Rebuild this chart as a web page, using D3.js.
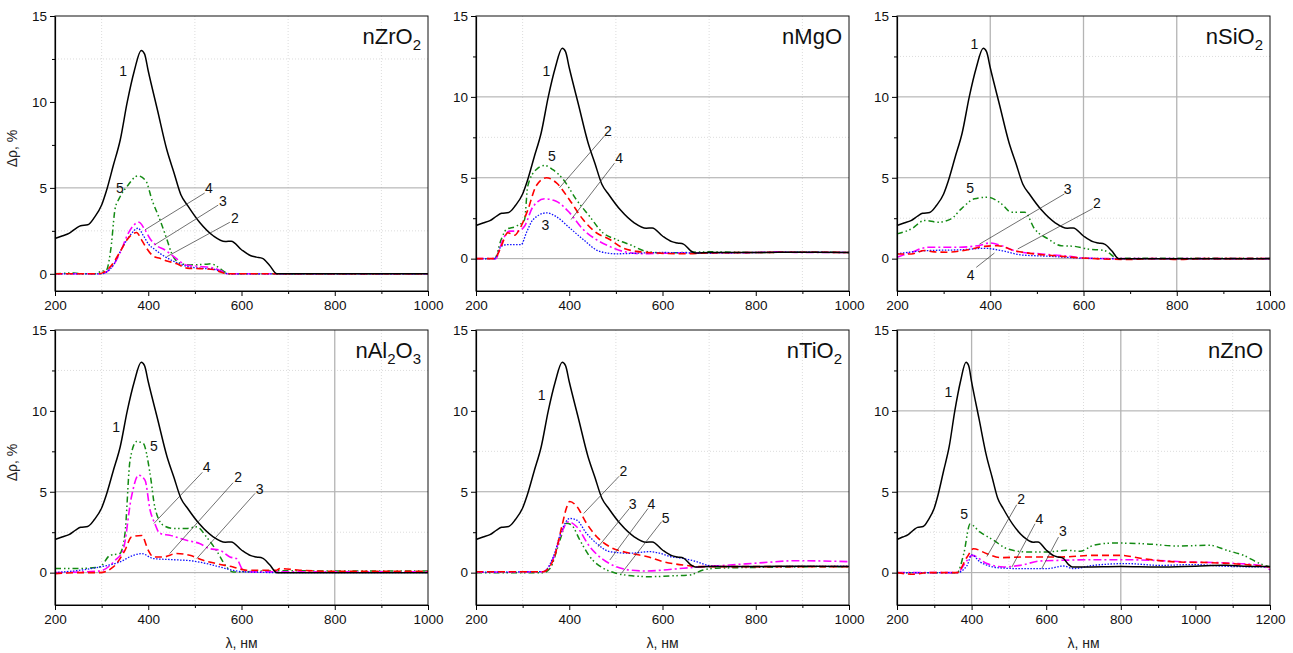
<!DOCTYPE html>
<html>
<head>
<meta charset="utf-8">
<script src="https://cdn.jsdelivr.net/npm/d3@7"></script>
<style>
  body { margin: 0; background: #fff; }
  svg { font-family: "Liberation Sans", Arial, sans-serif; }
</style>
</head>
<body>
<div id="chart"></div>
<script>
// reference curve (1), shared by all panels up to its tail
const refCurve = [[200,2.05],[215,2.2],[230,2.35],[245,2.65],[255,2.8],[270,2.85],[285,3.3],[300,4.0],[310,4.8],[325,6.3],[340,7.8],[355,10.0],[370,11.8],[385,13.0],[392,12.8],[400,11.8],[420,9.5],[440,7.2],[455,5.9],[470,4.6],[485,3.95],[510,3.0],[540,2.2],[565,1.88],[578,1.9],[600,1.4],[620,1.05],[632,0.97],[645,0.9],[660,0.5]];
const tailZero = [[676,0],[1000,0]];
const tailOffset = [[670,0.35],[700,0.38],[800,0.38],[900,0.4],[1000,0.38]];
const tailZnO = [[670,0.35],[700,0.35],[800,0.38],[900,0.35],[1000,0.4],[1080,0.45],[1130,0.4],[1200,0.38]];

// nZrO2
const zr2 = [[200,0],[295,0],[305,0.1],[320,0.45],[340,1.3],[355,2.0],[375,2.4],[385,2.0],[395,1.55],[410,1.05],[425,0.9],[440,0.75],[460,0.6],[483,0.33],[510,0.3],[540,0.25],[555,0.1],[570,0],[1000,0]];
const zr3 = [[200,0],[298,0],[310,0.1],[325,0.5],[340,1.3],[360,2.2],[378,2.65],[390,2.2],[400,1.75],[415,1.4],[430,1.1],[455,0.72],[483,0.43],[510,0.33],[540,0.27],[560,0.1],[572,0],[1000,0]];
const zr4 = [[200,0],[298,0],[310,0.1],[325,0.5],[340,1.25],[357,2.35],[380,3.0],[392,2.6],[405,2.0],[420,1.6],[435,1.4],[455,1.0],[483,0.5],[511,0.43],[540,0.33],[558,0.15],[570,0],[1000,0]];
const zr5 = [[200,0],[240,0.05],[260,0],[285,0],[300,0.15],[310,0.2],[320,1.5],[329,3.8],[338,4.4],[355,5.1],[378,5.7],[395,5.4],[408,4.3],[425,3.15],[440,2.0],[450,1.2],[468,0.62],[490,0.52],[520,0.55],[535,0.58],[548,0.42],[568,0.05],[575,0],[1000,0]];

// nMgO
const mg2 = [[200,0],[240,0],[254,0.76],[268,1.6],[283,1.45],[293,1.8],[311,3.0],[329,4.5],[351,5.0],[372,4.7],[400,3.66],[430,2.4],[458,1.6],[486,1.2],[515,0.66],[544,0.45],[587,0.35],[650,0.3],[700,0.35],[800,0.38],[900,0.4],[1000,0.38]];
const mg3 = [[200,0],[240,0],[254,0.76],[268,0.87],[297,0.87],[308,1.6],[322,2.4],[351,2.83],[372,2.6],[401,1.9],[430,1.18],[465,0.45],[501,0.3],[558,0.35],[600,0.38],[700,0.35],[800,0.38],[900,0.4],[1000,0.38]];
const mg4 = [[200,0],[242,0],[258,1.2],[272,1.7],[290,1.7],[304,2.0],[322,3.2],[347,3.7],[372,3.55],[401,2.83],[430,1.8],[458,1.18],[486,0.76],[515,0.45],[558,0.3],[600,0.33],[700,0.35],[800,0.38],[850,0.42],[900,0.38],[1000,0.38]];
const mg5 = [[200,0],[240,0],[254,1.18],[265,1.8],[286,2.0],[304,2.4],[311,4.48],[329,5.5],[347,5.76],[365,5.5],[387,4.9],[415,3.66],[444,2.6],[472,1.6],[501,1.18],[530,0.87],[565,0.45],[601,0.35],[700,0.42],[800,0.38],[900,0.4],[1000,0.38]];

// nSiO2
const si2 = [[200,0.29],[231,0.29],[259,0.5],[280,0.42],[309,0.4],[352,0.55],[388,0.76],[416,0.8],[452,0.5],[495,0.29],[538,0.18],[609,0.02],[700,-0.05],[750,0],[800,-0.05],[850,0],[1000,0]];
const si3 = [[200,0.3],[266,0.5],[338,0.55],[388,0.64],[424,0.5],[466,0.23],[524,0.15],[609,0.02],[680,0],[1000,0]];
const si4 = [[200,0.08],[231,0.4],[266,0.7],[324,0.7],[374,0.8],[399,0.97],[424,0.8],[459,0.43],[509,0.29],[566,0.15],[609,0.02],[680,0],[1000,0]];
const si5 = [[200,1.53],[231,1.84],[259,2.36],[288,2.25],[316,2.46],[338,3.08],[366,3.7],[395,3.8],[424,3.39],[445,2.87],[474,2.87],[495,1.84],[524,1.22],[552,0.8],[581,0.76],[609,0.6],[645,0.5],[674,0.02],[1000,0.02]];

// nAl2O3
const al2 = [[200,-0.06],[246,0],[296,0],[325,0.35],[350,1.38],[364,2.2],[386,2.3],[400,1.38],[411,0.97],[432,0.97],[461,1.18],[489,1.07],[518,0.76],[546,0.56],[582,0.35],[611,0.15],[675,0.15],[682,0.25],[725,0.15],[800,0.08],[1000,0.08]];
const al3 = [[200,0],[296,0.35],[339,0.66],[368,1.07],[386,1.18],[411,0.87],[454,0.8],[496,0.72],[525,0.56],[554,0.35],[582,0.14],[611,0.04],[700,0],[1000,0]];
const al4 = [[200,0],[296,0.1],[329,0.76],[346,1.38],[364,4.69],[379,6.03],[393,5.72],[404,3.86],[414,3.04],[425,2.42],[446,2.31],[482,2.0],[510,1.8],[530,1.5],[554,1.38],[575,0.97],[589,0.87],[604,0.14],[620,0.05],[1000,0.05]];
const al5 = [[200,0.25],[246,0.25],[296,0.35],[318,1.07],[339,1.18],[350,2.4],[361,6.96],[375,8.1],[389,8.0],[404,6.1],[414,4.07],[432,2.93],[454,2.73],[482,2.73],[504,2.83],[525,2.2],[546,1.38],[568,0.35],[582,0.04],[650,0.1],[700,0.12],[800,0.1],[1000,0.1]];

// nTiO2
const ti2 = [[200,0.06],[344,0.06],[366,0.8],[384,2.84],[394,4.0],[401,4.4],[416,4.1],[437,3.05],[459,2.22],[487,1.6],[530,1.2],[566,1.0],[601,0.68],[644,0.47],[687,0.37],[1000,0.37]];
const ti3 = [[200,0.03],[344,0.06],[366,1.0],[384,2.63],[401,3.35],[416,3.25],[437,2.43],[459,1.8],[487,1.3],[530,1.2],[573,1.3],[594,1.2],[616,1.0],[644,0.88],[673,0.68],[701,0.43],[744,0.37],[1000,0.4]];
const ti4 = [[200,0.03],[344,0.06],[366,0.9],[384,2.5],[398,3.15],[416,2.84],[444,1.6],[473,0.8],[501,0.37],[530,0.16],[566,0.1],[601,0.16],[644,0.27],[687,0.37],[744,0.47],[816,0.62],[887,0.74],[1000,0.68]];
const ti5 = [[200,0],[344,0],[359,0.27],[380,2.0],[394,3.05],[405,2.94],[423,2.0],[444,0.99],[473,0.27],[501,-0.04],[537,-0.2],[573,-0.25],[616,-0.2],[659,-0.14],[687,0.16],[716,0.27],[816,0.33],[1000,0.37]];

// nZnO
const zn2 = [[200,0],[245,-0.1],[280,0],[361,0],[388,0.97],[405,1.48],[441,1.17],[477,0.93],[548,0.97],[638,0.97],[727,1.07],[798,1.07],[861,0.86],[950,0.66],[1039,0.62],[1129,0.51],[1200,0.35]];
const zn3 = [[200,0],[361,0],[388,0.45],[400,1.1],[423,0.66],[477,0.29],[530,0.25],[602,0.25],[646,0.41],[673,0.25],[727,0.45],[816,0.56],[905,0.45],[995,0.5],[1084,0.39],[1200,0.35]];
const zn4 = [[200,0],[361,0],[388,0.76],[401,1.07],[441,0.56],[486,0.35],[530,0.45],[584,0.72],[638,0.76],[727,0.8],[798,0.8],[888,0.76],[977,0.66],[1084,0.6],[1173,0.45],[1200,0.18]];
const zn5 = [[200,0],[361,0],[379,1.17],[396,3.0],[423,2.5],[459,2.0],[495,1.48],[548,1.28],[602,1.28],[655,1.38],[691,1.32],[727,1.69],[780,1.83],[861,1.79],[950,1.65],[1039,1.69],[1084,1.38],[1129,1.07],[1173,0.56],[1200,0.35]];

// curve labels: [text, x, y] or [text, x, y, lineX1, lineY1, lineX2, lineY2] in data units
const zrNotes = [["1",346,11.8],["5",339,5.0],["4",530,5.0,521,4.7,393,2.56],["3",560,4.24,550,4.0,414,1.69],["2",586,3.26,575,3.0,440,1.0]];
const mgNotes = [["1",351,11.6],["2",483,7.9,476,7.6,379,4.38],["5",363,6.34],["4",507,6.24,497,5.9,404,2.42],["3",349,2.1]];
const siNotes = [["1",366,13.3],["5",357,4.36],["3",566,4.3,559,4.0,377,0.9],["2",629,3.45,620,3.1,459,0.6],["4",358,-1.0,370,-0.54,409,0.35]];
const alNotes = [["1",331,9.03],["5",412,7.8],["4",525,6.55,516,6.2,412,3.04],["2",593,5.93,582,5.56,446,1.18],["3",639,5.2,629,4.9,504,0.87]];
const tiNotes = [["1",341,11.0],["2",516,6.27,507,5.96,431,3.66],["3",536,4.27,529,3.97,462,1.6],["4",576,4.27,569,3.97,487,0.78],["5",607,3.4,598,3.15,512,-0.04]];
const znNotes = [["1",338,11.15],["5",380,3.64],["2",533,4.53,521,4.2,441,1.0],["4",582,3.33,570,3.02,508,0.35],["3",645,2.55,633,2.2,588,0.25]];

const seriesStyle = [
  { color: "#000000", dash: null, width: 1.5 },
  { color: "#ff0000", dash: "7,4", width: 1.6 },
  { color: "#1010ff", dash: "1.5,1.5", width: 1.3 },
  { color: "#ff00ff", dash: "8,3,2,3", width: 1.6 },
  { color: "#138a13", dash: "6,3,1.5,2.5,1.5,3", width: 1.5 }
];

const panels = [
  { name: ["nZrO", "2"], col: 0, row: 0, yMin: -1, xMax: 1000, series: [refCurve.concat(tailZero), zr2, zr3, zr4, zr5], notes: zrNotes,
    hSolid: [0, 5], hDot: [2.5, 12.5], vSolid: [], vDot: [300, 500, 700, 900], yTitle: true, xTitle: false },
  { name: ["nMgO"], col: 1, row: 0, yMin: -2, xMax: 1000, series: [refCurve.concat(tailOffset), mg2, mg3, mg4, mg5], notes: mgNotes,
    hSolid: [0, 5, 10], hDot: [7.5], vSolid: [], vDot: [300, 500, 700, 900], yTitle: false, xTitle: false },
  { name: ["nSiO", "2"], col: 2, row: 0, yMin: -2, xMax: 1000, series: [refCurve.concat(tailZero), si2, si3, si4, si5], notes: siNotes,
    hSolid: [0, 5, 10], hDot: [2.5, 12.5], vSolid: [400, 600, 800], vDot: [], yTitle: false, xTitle: false },
  { name: ["nAl", "2", "O", "3"], col: 0, row: 1, yMin: -2, xMax: 1000, series: [refCurve.concat(tailZero), al2, al3, al4, al5], notes: alNotes,
    hSolid: [0, 5], hDot: [2.5, 12.5], vSolid: [800], vDot: [300, 500, 700, 900], yTitle: true, xTitle: true },
  { name: ["nTiO", "2"], col: 1, row: 1, yMin: -2, xMax: 1000, series: [refCurve.concat(tailOffset), ti2, ti3, ti4, ti5], notes: tiNotes,
    hSolid: [0, 5], hDot: [7.5], vSolid: [], vDot: [300, 500, 700, 900], yTitle: false, xTitle: true },
  { name: ["nZnO"], col: 2, row: 1, yMin: -2, xMax: 1200, series: [refCurve.concat(tailZnO), zn2, zn3, zn4, zn5], notes: znNotes,
    hSolid: [0, 5, 10], hDot: [2.5, 7.5, 12.5], vSolid: [400, 800], vDot: [300, 500, 700, 900, 1100], yTitle: false, xTitle: true }
];

const width = 1293, height = 653;
const colLeft = [55, 476, 897];
const rowTop = [16, 330];
const plotW = 373, plotH = 275;

const svg = d3.select("#chart").append("svg")
  .attr("width", width)
  .attr("height", height);

panels.forEach(function (p) {
  const g = svg.append("g")
    .attr("transform", "translate(" + colLeft[p.col] + "," + rowTop[p.row] + ")");

  const x = d3.scaleLinear().domain([200, p.xMax]).range([0, plotW]);
  const y = d3.scaleLinear().domain([p.yMin, 15]).range([plotH, 0]);

  // grid
  g.selectAll(".hdot").data(p.hDot).enter().append("line")
    .attr("x1", 0).attr("x2", plotW)
    .attr("y1", d => y(d)).attr("y2", d => y(d))
    .attr("stroke", "#dcdcdc").attr("stroke-width", 1).attr("stroke-dasharray", "1,2");
  g.selectAll(".vdot").data(p.vDot).enter().append("line")
    .attr("y1", 0).attr("y2", plotH)
    .attr("x1", d => x(d)).attr("x2", d => x(d))
    .attr("stroke", "#dcdcdc").attr("stroke-width", 1).attr("stroke-dasharray", "1,2");
  g.selectAll(".hsolid").data(p.hSolid).enter().append("line")
    .attr("x1", 0).attr("x2", plotW)
    .attr("y1", d => y(d)).attr("y2", d => y(d))
    .attr("stroke", "#a8a8a8").attr("stroke-width", 1);
  g.selectAll(".vsolid").data(p.vSolid).enter().append("line")
    .attr("y1", 0).attr("y2", plotH)
    .attr("x1", d => x(d)).attr("x2", d => x(d))
    .attr("stroke", "#b4b4b4").attr("stroke-width", 1.3);

  // curves
  const line = d3.line()
    .x(d => x(d[0]))
    .y(d => y(d[1]))
    .curve(d3.curveMonotoneX);

  const order = [4, 3, 2, 1, 0];
  order.forEach(function (i) {
    const s = seriesStyle[i];
    g.append("path")
      .datum(p.series[i])
      .attr("d", line)
      .attr("fill", "none")
      .attr("stroke", s.color)
      .attr("stroke-width", s.width)
      .attr("stroke-dasharray", s.dash);
  });

  // frame
  g.append("rect")
    .attr("width", plotW).attr("height", plotH)
    .attr("fill", "none").attr("stroke", "#111").attr("stroke-width", 1);

  // axes
  const xMajor = d3.range(200, p.xMax + 1, 200);
  const xMinor = d3.range(300, p.xMax, 200);
  const yMajor = [0, 5, 10, 15];
  const yMinor = d3.range(p.yMin < -1 ? -2.5 : 2.5, 15, 5).filter(v => v >= p.yMin);

  g.append("g").attr("transform", "translate(0," + plotH + ")")
    .call(d3.axisBottom(x).tickValues(xMinor).tickSize(3).tickFormat(""))
    .call(a => a.select(".domain").remove());
  g.append("g").attr("transform", "translate(0," + plotH + ")")
    .call(d3.axisBottom(x).tickValues(xMajor).tickSize(5).tickSizeOuter(0).tickPadding(4).tickFormat(d3.format("d")))
    .call(a => a.select(".domain").attr("stroke-width", 1.2))
    .call(a => a.selectAll("text").attr("font-size", 13.5).attr("fill", "#111"));
  g.append("g")
    .call(d3.axisLeft(y).tickValues(yMinor).tickSize(3).tickFormat(""))
    .call(a => a.select(".domain").remove());
  g.append("g")
    .call(d3.axisLeft(y).tickValues(yMajor).tickSize(5).tickSizeOuter(0).tickPadding(3).tickFormat(d3.format("d")))
    .call(a => a.select(".domain").attr("stroke-width", 1.2))
    .call(a => a.selectAll("text").attr("font-size", 13.5).attr("fill", "#111"));

  // panel title with subscripts
  const title = g.append("text")
    .attr("x", plotW - 7).attr("y", 28)
    .attr("text-anchor", "end")
    .attr("font-size", 22)
    .attr("fill", "#111");
  p.name.forEach(function (part, i) {
    const isSub = i % 2 === 1;
    title.append("tspan")
      .attr("font-size", isSub ? 15 : 22)
      .attr("dy", isSub ? 6 : (i > 0 ? -6 : 0))
      .text(part);
  });

  // curve labels
  p.notes.forEach(function (n) {
    if (n.length > 3) {
      g.append("line")
        .attr("x1", x(n[3])).attr("y1", y(n[4]))
        .attr("x2", x(n[5])).attr("y2", y(n[6]))
        .attr("stroke", "#333").attr("stroke-width", 0.7);
    }
    g.append("text")
      .attr("x", x(n[1])).attr("y", y(n[2]))
      .attr("text-anchor", "middle")
      .attr("dominant-baseline", "central")
      .attr("font-size", 14)
      .attr("fill", "#111")
      .text(n[0]);
  });

  if (p.yTitle) {
    g.append("text")
      .attr("transform", "translate(-38," + (plotH / 2 - 5) + ") rotate(-90)")
      .attr("text-anchor", "middle")
      .attr("font-size", 14)
      .attr("fill", "#222")
      .text("Δρ, %");
  }
  if (p.xTitle) {
    g.append("text")
      .attr("x", plotW / 2).attr("y", plotH + 43)
      .attr("text-anchor", "middle")
      .attr("font-size", 14)
      .attr("fill", "#222")
      .text("λ, нм");
  }
});
</script>
</body>
</html>
